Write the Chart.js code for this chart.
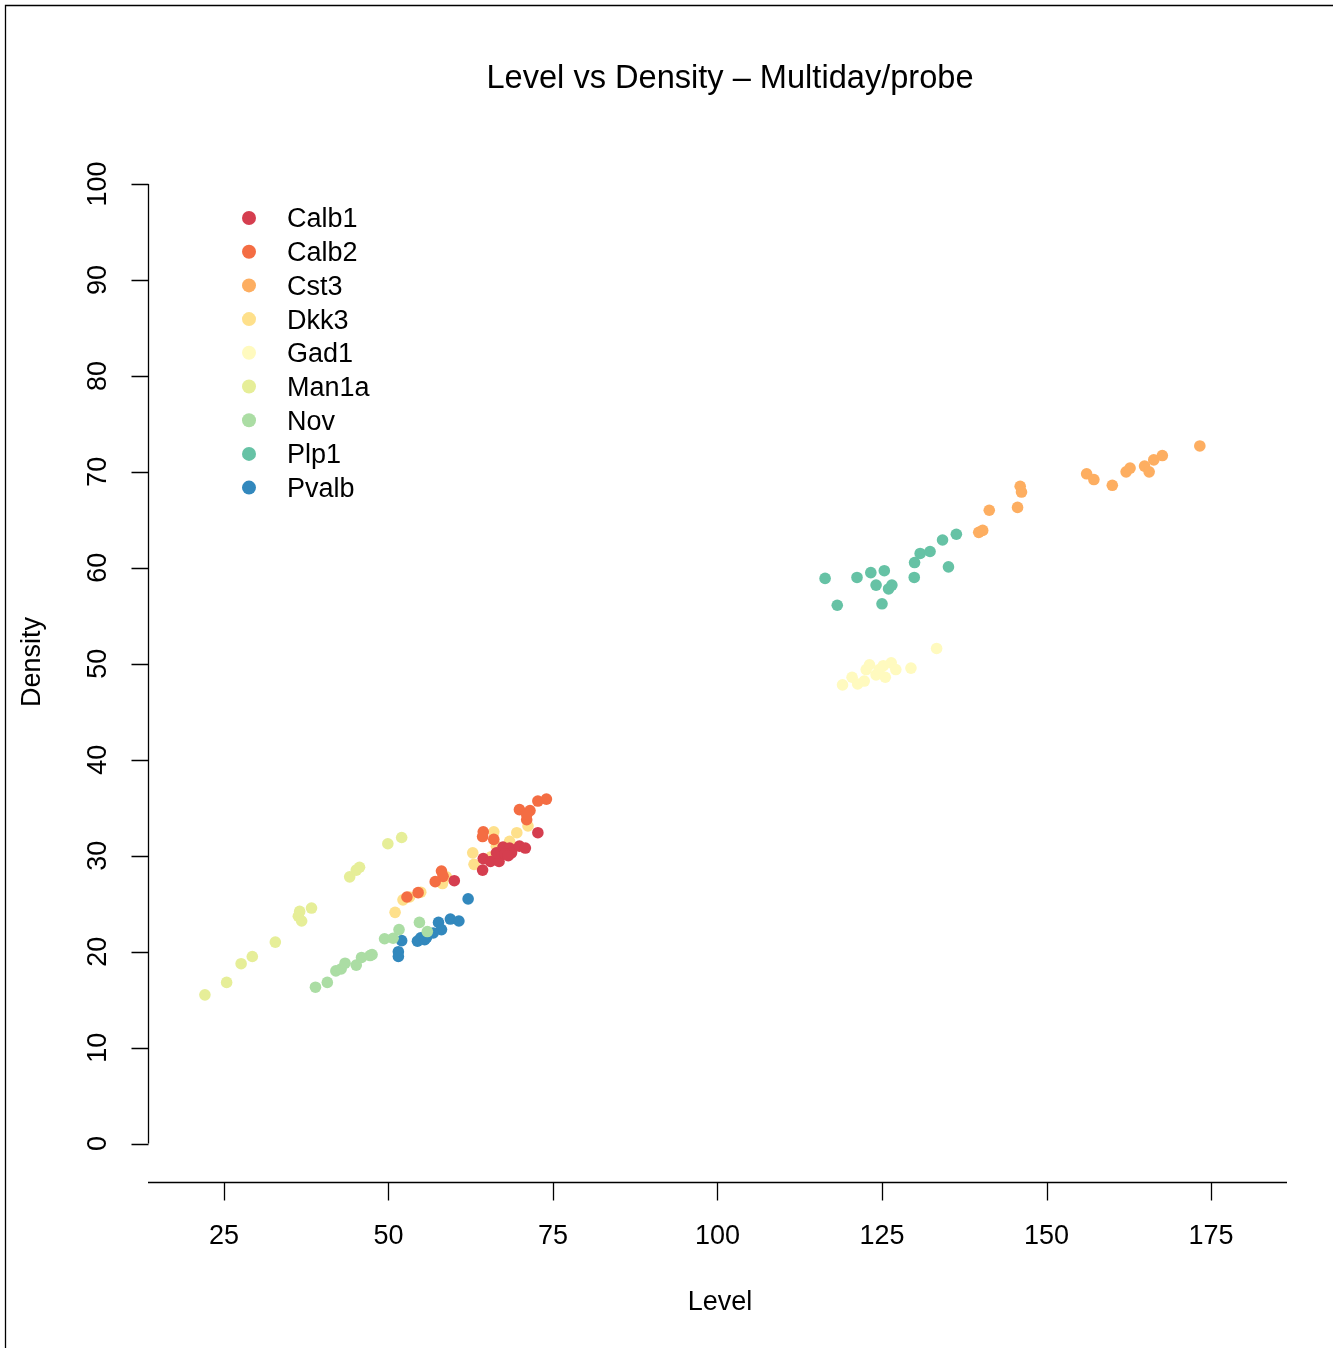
<!DOCTYPE html>
<html>
<head>
<meta charset="utf-8">
<title>Level vs Density</title>
<script src="https://cdn.jsdelivr.net/npm/chart.js@4"></script>
<style>
  html, body { margin: 0; padding: 0; background: #fff; }
  #chartCanvas { display: block; }
</style>
</head>
<body>
<canvas id="chartCanvas" width="1333" height="1348"></canvas>
<script>
// probe names and colours (Spectral palette)
const probes = ['Calb1', 'Calb2', 'Cst3', 'Dkk3', 'Gad1', 'Man1a', 'Nov', 'Plp1', 'Pvalb'];
const probeColors = ['#D53E4F', '#F46D43', '#FDAE61', '#FEE08B', '#FFFABF', '#E6EE98', '#ABDDA4', '#66C2A5', '#3288BD'];

// [level, density] pairs
const calb1 = [[60.0, 27.4], [64.4, 29.7], [64.3, 28.5], [65.5, 29.4], [66.8, 29.4], [66.4, 30.3], [67.4, 30.9],
  [68.4, 30.8], [68.7, 30.3], [67.7, 30.2], [68.2, 30.0], [69.9, 31.0], [70.8, 30.8], [72.7, 32.4]];
const calb2 = [[54.5, 26.15], [52.8, 25.7], [58.05, 28.4], [58.3, 27.85], [57.1, 27.3], [64.4, 32.5], [64.3, 32.0],
  [66.0, 31.7], [69.9, 34.8], [71.5, 34.7], [71.0, 33.75], [71.0, 34.3], [72.7, 35.7], [74.0, 35.9]];
const cst3 = [[139.7, 63.7], [140.3, 63.9], [141.3, 66.0], [145.6, 66.3], [146.0, 68.5], [146.2, 67.9], [156.1, 69.8],
  [157.2, 69.2], [160.0, 68.6], [162.1, 70.0], [162.7, 70.4], [164.9, 70.6], [165.6, 70.0], [166.3, 71.25],
  [167.6, 71.7], [173.3, 72.7]];
const dkk3 = [[51.0, 24.1], [52.2, 25.4], [53.2, 25.7], [54.9, 26.2], [58.2, 27.1], [58.8, 27.8], [62.8, 30.3],
  [63.0, 29.1], [65.6, 29.9], [66.0, 32.5], [68.4, 31.5], [69.5, 32.4], [71.2, 33.1], [66.4, 31.0]];
const gad1 = [[119.0, 47.8], [120.45, 48.6], [121.3, 47.9], [122.3, 48.2], [122.6, 49.4], [123.1, 49.9], [124.1, 48.85],
  [124.6, 49.4], [125.2, 49.8], [125.5, 48.6], [126.4, 50.1], [127.1, 49.4], [129.4, 49.55], [133.3, 51.6]];
const man1a = [[22.1, 15.5], [25.4, 16.8], [27.6, 18.75], [29.3, 19.5], [32.8, 21.0], [36.3, 23.7], [36.8, 23.2],
  [36.5, 24.2], [38.3, 24.55], [44.1, 27.8], [45.1, 28.5], [45.6, 28.8], [49.9, 31.25], [52.0, 31.9]];
const nov = [[38.9, 16.3], [40.7, 16.8], [42.0, 18.0], [42.8, 18.2], [43.4, 18.8], [45.1, 18.6], [45.9, 19.4],
  [47.2, 19.6], [47.5, 19.7], [49.4, 21.35], [50.7, 21.4], [51.6, 22.3], [54.7, 23.05], [55.9, 22.1]];
const plp1 = [[116.35, 58.9], [118.2, 56.1], [121.2, 59.0], [123.3, 59.5], [124.1, 58.2], [125.35, 59.7], [125.0, 56.25],
  [126.0, 57.8], [126.5, 58.2], [129.9, 59.0], [129.95, 60.55], [130.8, 61.5], [132.3, 61.7], [134.2, 62.9],
  [136.3, 63.5], [135.1, 60.1]];
const pvalb = [[62.1, 25.5], [59.4, 23.4], [60.7, 23.2], [57.6, 23.05], [58.05, 22.3], [56.8, 21.95], [55.8, 21.5],
  [54.9, 21.45], [54.4, 21.1], [55.5, 21.25], [52.0, 21.15], [51.5, 20.0], [51.5, 19.5]];

const seriesData = [calb1, calb2, cst3, dkk3, gad1, man1a, nov, plp1, pvalb];

const xTicks = [25, 50, 75, 100, 125, 150, 175];
const yTicks = [0, 10, 20, 30, 40, 50, 60, 70, 80, 90, 100];

const FONT = '"Liberation Sans", Arial, Helvetica, sans-serif';

// draws R-style axes, title, labels, legend and frame
const baseGraphics = {
  id: 'baseGraphics',
  afterDraw(chart) {
    const c = chart.ctx;
    const xs = chart.scales.x;
    const ys = chart.scales.y;
    const area = chart.chartArea;
    c.save();
    c.strokeStyle = '#000';
    c.fillStyle = '#000';
    c.lineWidth = 1.3;

    // outer frame (left / top)
    c.beginPath();
    c.moveTo(5.5, 1348);
    c.lineTo(5.5, 5.5);
    c.lineTo(1333, 5.5);
    c.stroke();

    // x axis
    const xAxisY = Math.round(area.bottom) + 0.5;
    c.beginPath();
    c.moveTo(area.left, xAxisY);
    c.lineTo(area.right, xAxisY);
    xTicks.forEach(t => {
      const px = Math.round(xs.getPixelForValue(t)) + 0.5;
      c.moveTo(px, xAxisY);
      c.lineTo(px, xAxisY + 18);
    });
    c.stroke();
    c.font = '27px ' + FONT;
    c.textAlign = 'center';
    c.textBaseline = 'middle';
    xTicks.forEach(t => {
      c.fillText(String(t), xs.getPixelForValue(t), 1237);
    });

    // y axis
    const yAxisX = Math.round(area.left) + 0.5;
    c.beginPath();
    c.moveTo(yAxisX, ys.getPixelForValue(yTicks[0]));
    c.lineTo(yAxisX, ys.getPixelForValue(yTicks[yTicks.length - 1]));
    yTicks.forEach(t => {
      const py = Math.round(ys.getPixelForValue(t)) + 0.5;
      c.moveTo(yAxisX, py);
      c.lineTo(yAxisX - 17, py);
    });
    c.stroke();
    yTicks.forEach(t => {
      c.save();
      c.translate(99, ys.getPixelForValue(t));
      c.rotate(-Math.PI / 2);
      c.fillText(String(t), 0, 0);
      c.restore();
    });

    // title and axis labels
    c.font = '32.6px ' + FONT;
    c.fillText('Level vs Density \u2013 Multiday/probe', 730, 79);
    c.font = '27px ' + FONT;
    c.fillText('Level', 720, 1303);
    c.save();
    c.translate(33, 662);
    c.rotate(-Math.PI / 2);
    c.fillText('Density', 0, 0);
    c.restore();

    // legend
    c.textAlign = 'left';
    probes.forEach((name, i) => {
      const ly = 218 + i * 33.7;
      c.fillStyle = probeColors[i];
      c.beginPath();
      c.arc(249, ly, 7, 0, Math.PI * 2);
      c.fill();
      c.fillStyle = '#000';
      c.fillText(name, 287, ly + 2);
    });
    c.restore();
  }
};

const ctx = document.getElementById('chartCanvas').getContext('2d');

new Chart(ctx, {
  type: 'scatter',
  data: {
    datasets: probes.map((name, i) => ({
      label: name,
      data: seriesData[i].map(p => ({ x: p[0], y: p[1] })),
      backgroundColor: probeColors[i],
      borderWidth: 0,
      pointRadius: 5.8,
      pointHoverRadius: 5.8
    }))
  },
  options: {
    responsive: false,
    animation: false,
    events: [],
    layout: { padding: { left: 148, right: 46, top: 145.6, bottom: 166 } },
    plugins: {
      legend: { display: false },
      title: { display: false },
      tooltip: { enabled: false }
    },
    scales: {
      x: { type: 'linear', min: 13.45, max: 186.55, display: false },
      y: { type: 'linear', min: -4, max: 104, display: false }
    }
  },
  plugins: [baseGraphics]
});
</script>
</body>
</html>
